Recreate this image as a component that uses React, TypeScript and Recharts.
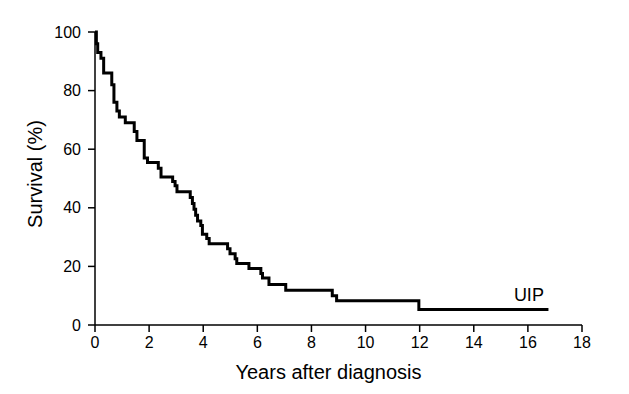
import { LineChart, Line, XAxis, YAxis, ReferenceDot, Label } from 'recharts';

// Kaplan-Meier style survival curve
const years = [
  0, 0.05, 0.1, 0.22, 0.32, 0.62, 0.7, 0.81, 0.9, 1.12, 1.45, 1.55, 1.82, 1.94,
  2.34, 2.44, 2.87, 2.96, 3.03, 3.52, 3.6, 3.66, 3.72, 3.79, 3.91, 3.97, 4.13,
  4.22, 4.9, 4.99, 5.18, 5.24, 5.69, 6.13, 6.19, 6.43, 7.05, 8.77, 8.93, 11.97,
  16.76,
];
const survival = [
  100, 96, 93, 91, 86, 82, 76, 73, 71, 69, 66, 63, 57, 55.5,
  53.5, 50.5, 49, 47.5, 45.5, 43.5, 41.5, 39.5, 37.5, 35.5, 34, 31, 29.5,
  27.7, 26, 24.3, 22.6, 21, 19.3, 17.6, 16, 13.8, 11.9, 10, 8.3, 5.3,
  5.3,
];
const xTicks = [0, 2, 4, 6, 8, 10, 12, 14, 16, 18];
const yTicks = [0, 20, 40, 60, 80, 100];
const seriesLabel = 'UIP';
const labelAt = { x: 16, y: 10.4 };

const data = years.map((t, i) => ({ t, s: survival[i] }));

const FONT = '"Liberation Sans", Arial, Helvetica, sans-serif';

export default function App() {
  return (
    <div style={{ position: 'absolute', left: 0, top: 0, background: '#fff' }}>
      <LineChart
        width={629}
        height={394}
        data={data}
        margin={{ top: 32, right: 47, bottom: 0, left: 0 }}
      >
        <XAxis
          dataKey="t"
          type="number"
          domain={[0, 18]}
          ticks={xTicks}
          height={69}
          stroke="#000"
          strokeWidth={1.5}
          tickSize={7}
          tickMargin={5}
          tick={{ fill: '#000', fontSize: 16, fontFamily: FONT }}
        >
          <Label
            content={({ viewBox }: any) => (
              <text
                x={viewBox.x + viewBox.width / 2 - 10}
                y={viewBox.y + 54}
                textAnchor="middle"
                fontSize={20}
                fontFamily={FONT}
                fill="#000"
              >
                Years after diagnosis
              </text>
            )}
          />
        </XAxis>
        <YAxis
          type="number"
          domain={[0, 100]}
          ticks={yTicks}
          width={95}
          stroke="#000"
          strokeWidth={1.5}
          tickSize={7}
          tickMargin={7}
          tick={{ fill: '#000', fontSize: 16, fontFamily: FONT }}
        >
          <Label
            content={({ viewBox }: any) => {
              const cx = 42;
              const cy = viewBox.y + 142;
              return (
                <text
                  x={cx}
                  y={cy}
                  transform={`rotate(-90, ${cx}, ${cy})`}
                  textAnchor="middle"
                  fontSize={20}
                  fontFamily={FONT}
                  fill="#000"
                >
                  Survival (%)
                </text>
              );
            }}
          />
        </YAxis>
        <Line
          type="stepAfter"
          dataKey="s"
          stroke="#000"
          strokeWidth={3}
          dot={false}
          isAnimationActive={false}
        />
        <ReferenceDot
          x={labelAt.x}
          y={labelAt.y}
          r={0}
          fill="none"
          stroke="none"
          label={(props: any) => (
            <text
              x={props.viewBox.x - 14}
              y={props.viewBox.y + 6}
              fontSize={18}
              fontFamily={FONT}
              fill="#000"
            >
              {seriesLabel}
            </text>
          )}
        />
      </LineChart>
    </div>
  );
}
